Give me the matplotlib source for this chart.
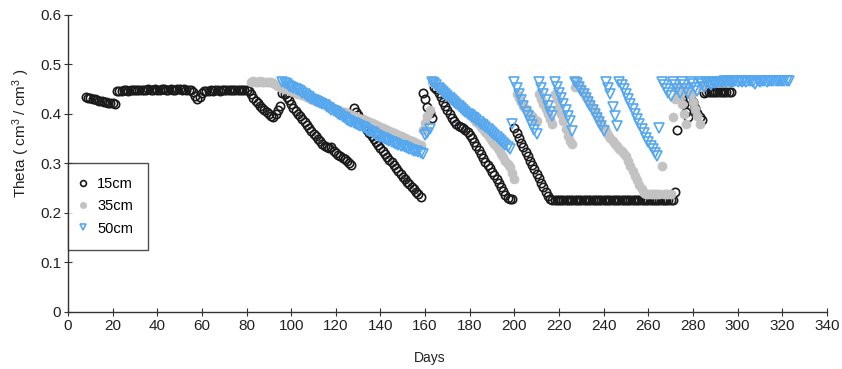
"""
Contenido de humedad del suelo (Theta) a 15, 35 y 50 cm de profundidad
"""

import numpy as np
import matplotlib.pyplot as plt

# Lecturas diarias, un valor por dia desde el dia de inicio de cada sensor
inicio_15 = 8
theta_15 = [
    0.434, 0.433, 0.432, 0.431, 0.430, 0.428, 0.427, 0.426, 0.425, 0.424,
    0.423, 0.423, 0.422, 0.421, 0.446, 0.447, 0.447, 0.448, 0.448, 0.447,
    0.448, 0.449, 0.448, 0.448, 0.449, 0.449, 0.448, 0.449, 0.450, 0.449,
    0.449, 0.450, 0.449, 0.449, 0.450, 0.450, 0.449, 0.449, 0.450, 0.449,
    0.449, 0.450, 0.450, 0.449, 0.450, 0.449, 0.449, 0.448, 0.444, 0.437,
    0.431, 0.435, 0.443, 0.446, 0.447, 0.447, 0.448, 0.447, 0.448, 0.448,
    0.447, 0.448, 0.448, 0.449, 0.448, 0.448, 0.449, 0.448, 0.448, 0.449,
    0.448, 0.449, 0.448, 0.446, 0.440, 0.433, 0.427, 0.422, 0.417, 0.412,
    0.408, 0.404, 0.400, 0.396, 0.394, 0.400, 0.408, 0.416, 0.443, 0.440,
    0.435, 0.428, 0.420, 0.413, 0.406, 0.400, 0.395, 0.390, 0.384, 0.378,
    0.372, 0.366, 0.360, 0.355, 0.350, 0.345, 0.340, 0.336, 0.333, 0.332,
    0.333, 0.326, 0.322, 0.318, 0.315, 0.312, 0.309, 0.305, 0.301, 0.297,
    0.412, 0.405, 0.397, 0.390, 0.382, 0.375, 0.368, 0.362, 0.356, 0.350,
    0.344, 0.338, 0.332, 0.326, 0.320, 0.314, 0.308, 0.302, 0.296, 0.290,
    0.284, 0.278, 0.273, 0.268, 0.263, 0.258, 0.253, 0.248, 0.243, 0.238,
    0.232, 0.442, 0.430, 0.415, 0.402, 0.392, 0.455, 0.450, 0.443, 0.434,
    0.425, 0.416, 0.408, 0.400, 0.392, 0.385, 0.379, 0.376, 0.374, 0.372,
    0.368, 0.364, 0.358, 0.351, 0.344, 0.336, 0.328, 0.320, 0.312, 0.304,
    0.297, 0.290, 0.283, 0.276, 0.268, 0.260, 0.252, 0.244, 0.236, 0.230,
    0.228, 0.229, 0.372, 0.362, 0.352, 0.342, 0.333, 0.324, 0.315, 0.306,
    0.297, 0.288, 0.279, 0.270, 0.261, 0.252, 0.243, 0.235, 0.228, 0.226,
    0.226, 0.226, 0.227, 0.226, 0.226, 0.226, 0.226, 0.227, 0.226, 0.226,
    0.226, 0.227, 0.226, 0.226, 0.226, 0.227, 0.226, 0.226, 0.226, 0.226,
    0.226, 0.226, 0.227, 0.226, 0.226, 0.226, 0.226, 0.227, 0.226, 0.226,
    0.226, 0.227, 0.226, 0.226, 0.226, 0.226, 0.226, 0.227, 0.226, 0.226,
    0.226, 0.226, 0.227, 0.226, 0.226, 0.226, 0.226, 0.226, 0.226, 0.226,
    0.226, 0.226, 0.226, 0.226, 0.242, 0.368, 0.440, 0.430, 0.420, 0.405,
    0.394, 0.440, 0.425, 0.412, 0.402, 0.394, 0.388, 0.443, 0.444, 0.444,
    0.444, 0.444, 0.445, 0.444, 0.444, 0.444, 0.445, 0.444, 0.444, 0.444,
]

inicio_35 = 82
theta_35 = [
    0.465, 0.466, 0.465, 0.465, 0.466, 0.465, 0.464, 0.465, 0.465, 0.464,
    0.462, 0.459, 0.457, 0.455, 0.453, 0.451, 0.450, 0.448, 0.446, 0.445,
    0.443, 0.441, 0.440, 0.438, 0.436, 0.434, 0.432, 0.431, 0.429, 0.427,
    0.425, 0.424, 0.422, 0.420, 0.418, 0.416, 0.415, 0.413, 0.411, 0.409,
    0.407, 0.405, 0.404, 0.402, 0.400, 0.398, 0.396, 0.394, 0.392, 0.390,
    0.389, 0.387, 0.385, 0.383, 0.381, 0.379, 0.377, 0.375, 0.373, 0.371,
    0.369, 0.367, 0.366, 0.364, 0.362, 0.360, 0.358, 0.356, 0.354, 0.352,
    0.350, 0.348, 0.346, 0.344, 0.342, 0.340, 0.338, 0.368, 0.382, 0.395,
    0.408, 0.465, 0.462, 0.458, 0.454, 0.450, 0.446, 0.442, 0.438, 0.434,
    0.430, 0.426, 0.422, 0.418, 0.414, 0.410, 0.406, 0.402, 0.398, 0.394,
    0.389, 0.384, 0.379, 0.374, 0.369, 0.364, 0.358, 0.352, 0.346, 0.340,
    0.334, 0.327, 0.320, 0.313, 0.306, 0.299, 0.292, 0.280, 0.268, 0.440,
    0.432, 0.424, 0.416, 0.410, 0.405, 0.400, 0.395, 0.390, 0.385, 0.440,
    0.430, 0.420, 0.410, 0.400, 0.390, 0.380, 0.440, 0.430, 0.415, 0.400,
    0.385, 0.370, 0.355, 0.345, 0.340, 0.455, 0.462, 0.458, 0.450, 0.443,
    0.435, 0.428, 0.420, 0.412, 0.404, 0.396, 0.388, 0.380, 0.372, 0.365,
    0.358, 0.352, 0.346, 0.340, 0.335, 0.330, 0.325, 0.320, 0.316, 0.305,
    0.295, 0.285, 0.275, 0.266, 0.257, 0.248, 0.240, 0.238, 0.238, 0.238,
    0.238, 0.238, 0.238, 0.238, 0.294, 0.238, 0.238, 0.238, 0.238, 0.394,
    0.430, 0.455, 0.440, 0.420, 0.400, 0.380, 0.455, 0.440, 0.425, 0.410,
    0.395, 0.380, 0.455, 0.460, 0.465, 0.465, 0.465, 0.465, 0.465, 0.465,
    0.465, 0.465, 0.465, 0.465, 0.465, 0.465,
]

inicio_50 = 96
theta_50 = [
    0.465, 0.463, 0.460, 0.457, 0.455, 0.452, 0.450, 0.448, 0.446, 0.443,
    0.440, 0.437, 0.434, 0.431, 0.429, 0.427, 0.425, 0.423, 0.420, 0.418,
    0.415, 0.412, 0.409, 0.406, 0.403, 0.400, 0.397, 0.394, 0.391, 0.388,
    0.386, 0.384, 0.382, 0.380, 0.378, 0.376, 0.374, 0.371, 0.368, 0.366,
    0.364, 0.361, 0.358, 0.356, 0.354, 0.352, 0.350, 0.348, 0.346, 0.344,
    0.342, 0.340, 0.338, 0.336, 0.335, 0.333, 0.331, 0.330, 0.328, 0.326,
    0.325, 0.323, 0.322, 0.320, 0.358, 0.362, 0.370, 0.465, 0.462, 0.458,
    0.453, 0.449, 0.444, 0.440, 0.436, 0.432, 0.428, 0.424, 0.420, 0.416,
    0.412, 0.408, 0.404, 0.400, 0.397, 0.394, 0.391, 0.388, 0.384, 0.380,
    0.377, 0.374, 0.370, 0.366, 0.362, 0.358, 0.354, 0.350, 0.346, 0.342,
    0.338, 0.334, 0.330, 0.380, 0.465, 0.452, 0.440, 0.428, 0.416, 0.405,
    0.395, 0.386, 0.377, 0.368, 0.360, 0.465, 0.452, 0.440, 0.428, 0.416,
    0.405, 0.395, 0.465, 0.455, 0.443, 0.432, 0.420, 0.408, 0.396, 0.385,
    0.365, 0.465, 0.462, 0.455, 0.447, 0.440, 0.432, 0.424, 0.416, 0.408,
    0.400, 0.392, 0.384, 0.376, 0.366, 0.465, 0.452, 0.440, 0.415, 0.395,
    0.375, 0.465, 0.458, 0.450, 0.440, 0.430, 0.420, 0.410, 0.400, 0.390,
    0.380, 0.370, 0.361, 0.352, 0.344, 0.336, 0.329, 0.322, 0.316, 0.372,
    0.465, 0.458, 0.450, 0.443, 0.436, 0.465, 0.458, 0.450, 0.443, 0.465,
    0.458, 0.450, 0.443, 0.465, 0.460, 0.453, 0.446, 0.465, 0.460, 0.455,
    0.465, 0.462, 0.458, 0.465, 0.462, 0.465, 0.464, 0.465, 0.466, 0.465,
    0.466, 0.465, 0.465, 0.466, 0.465, 0.466, 0.465, 0.466, 0.465, 0.466,
    0.466, 0.465, 0.460, 0.466, 0.465, 0.466, 0.466, 0.465, 0.466, 0.466,
    0.466, 0.467, 0.466, 0.467, 0.466, 0.467, 0.467, 0.467,
]

dias_15 = np.arange(inicio_15, inicio_15 + len(theta_15))
dias_35 = np.arange(inicio_35, inicio_35 + len(theta_35))
dias_50 = np.arange(inicio_50, inicio_50 + len(theta_50))

plt.rcParams['font.family'] = ['Liberation Sans', 'DejaVu Sans']
plt.rcParams['mathtext.fontset'] = 'custom'
plt.rcParams['mathtext.rm'] = 'Liberation Sans'
plt.rcParams['mathtext.default'] = 'regular'

fig = plt.figure(figsize=(8.42, 3.69), dpi=100)
ax = fig.add_axes([0.0808, 0.1545, 0.9012, 0.8049])

ax.plot(dias_15, theta_15, linestyle='none', marker='o', markersize=6,
        markerfacecolor='none', markeredgecolor='#1a1a1a', markeredgewidth=1.2,
        label='15cm')
ax.plot(dias_35, theta_35, linestyle='none', marker='o', markersize=6.5,
        markerfacecolor='#c2c2c2', markeredgecolor='#c2c2c2', markeredgewidth=0.5,
        label='35cm')
ax.plot(dias_50, theta_50, linestyle='none', marker='v', markersize=7,
        markerfacecolor='none', markeredgecolor='#55a8ef', markeredgewidth=1.2,
        label='50cm')

ax.set_xlim(0, 340)
ax.set_ylim(0, 0.6)
ax.set_xticks(np.arange(0, 341, 20))
ax.set_yticks([0, 0.1, 0.2, 0.3, 0.4, 0.5, 0.6])
ax.set_yticklabels(['0', '0.1', '0.2', '0.3', '0.4', '0.5', '0.6'])

for lado in ['top', 'right']:
    ax.spines[lado].set_visible(False)
for lado in ['left', 'bottom']:
    ax.spines[lado].set_color('#333333')
    ax.spines[lado].set_linewidth(1.0)

ax.tick_params(direction='inout', length=6, width=0.8, colors='#333333',
               labelsize=11, labelcolor='#222222', pad=2)

ax.set_xlabel('Days', fontsize=10, color='#222222')
ax.xaxis.set_label_coords(0.477, -0.13)
ax.set_ylabel('Theta ( cm$^3$ / cm$^3$ )', fontsize=11, color='#222222')
ax.yaxis.set_label_coords(-0.047, 0.60)

leg = ax.legend(loc='upper left', bbox_to_anchor=(0.0, 0.502), borderaxespad=0,
                fontsize=10.5, frameon=True, fancybox=False, handlelength=0.1,
                handletextpad=0.9, borderpad=1.0, labelspacing=0.55, markerscale=0.7)
leg.get_frame().set_edgecolor('#222222')
leg.get_frame().set_linewidth(1.0)

plt.savefig('out.png', dpi=100)
print("Grafico guardado: out.png")
